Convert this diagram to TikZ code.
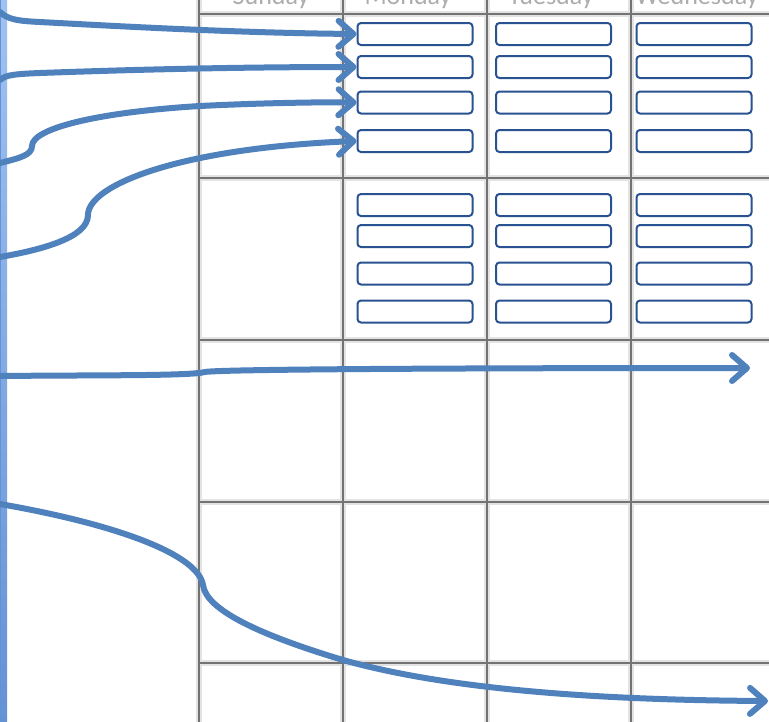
\documentclass[tikz,border=0pt]{standalone}
\usepackage{fontspec}
\setmainfont{Carlito}
\usetikzlibrary{arrows.meta}
\definecolor{arrblue}{RGB}{79,129,189}
\definecolor{boxblue}{RGB}{41,82,145}
\definecolor{barlight}{RGB}{160,194,242}
\definecolor{bardark}{RGB}{100,146,214}
\begin{document}
\begin{tikzpicture}[x=1pt,y=-1pt,
  gridhalo/.style={line width=5.5pt,gray!22},
  gridline/.style={line width=2.8pt,black!55},
  slot/.style={draw=boxblue,line width=2pt,fill=white,rounded corners=3.5pt,
    minimum width=115pt,minimum height=22pt,inner sep=0pt},
  dayname/.style={anchor=base,font=\fontsize{26}{26}\selectfont,text=gray!65,inner sep=0pt},
  arr/.style={draw=arrblue,line width=6pt,line cap=round,line join=round,
    -{Straight Barb[length=15pt,width=26pt,line cap=round,line join=round]},
    preaction={draw=black,opacity=0.12,transform canvas={shift={(1.5pt,-2pt)}}}}]
\useasboundingbox (0,0) rectangle (769,721);
\clip (0,0) rectangle (769,721);
\fill[white] (0,0) rectangle (769,721);
% header texts (cut off at top)
\node[dayname] (sun) at (271,4) {Sunday};
\node[dayname] (mon) at (408,4) {Monday};
\node[dayname] (tue) at (551,4) {Tuesday};
\node[dayname] (wed) at (697,4) {Wednesday};
% grid
\foreach \y in {14,178,340,502,663} {
  \draw[gridhalo] (199,\y) -- (775,\y);
}
\foreach \x in {199,343,487,631} {
  \draw[gridhalo] (\x,-5) -- (\x,730);
}
\foreach \y in {14,178,340,502,663} {
  \draw[gridline] (199,\y) -- (775,\y);
}
\foreach \x in {199,343,487,631} {
  \draw[gridline] (\x,-5) -- (\x,730);
}
% left bar
\shade[top color=barlight,bottom color=bardark] (0,-1) rectangle (7,722);
\draw[bardark,line width=1pt] (0.5,-1) -- (0.5,722);
% slots
\foreach \c/\x in {m/415,t/553.5,w/694} {
  \foreach \i/\y in {1/34,2/67,3/102.5,4/141,5/205,6/236,7/273.5,8/311.5} {
    \node[slot] (\c\i) at (\x,\y) {};
  }
}
% start points on the bar and free ends
\coordinate (s1) at (0,12);
\coordinate (s2) at (0,80);
\coordinate (s3) at (0,163);
\coordinate (s4) at (0,257);
\coordinate (s5) at (0,376);
\coordinate (s6) at (0,504);
\coordinate (e5) at (750,368);
\coordinate (e6) at (768,701);
% arrows
\draw[arr] (s1) .. controls (8,20) and (20,21) .. (40,22)
  .. controls (150,28) and (250,33) .. (m1.west);
\draw[arr] (s2) .. controls (5,75) and (15,74) .. (40,73)
  .. controls (150,69) and (250,67) .. (m2.west);
\draw[arr] (s3) .. controls (20,158) and (32,155) .. (32,146)
  .. controls (32,128) and (100,112) .. (200,106)
  .. controls (260,103) and (320,102) .. (m3.west);
\draw[arr] (s4) .. controls (40,250) and (88,238) .. (88,215)
  .. controls (88,185) and (180,148) .. (m4.west);
\draw[arr] (s5) .. controls (100,375) and (190,376) .. (205,372)
  .. controls (220,369) and (500,368) .. (e5);
\draw[arr] (s6) .. controls (120,525) and (198,555) .. (203,585)
  .. controls (206,610) and (260,635) .. (343,660)
  .. controls (450,690) and (600,700) .. (e6);
\end{tikzpicture}
\end{document}
